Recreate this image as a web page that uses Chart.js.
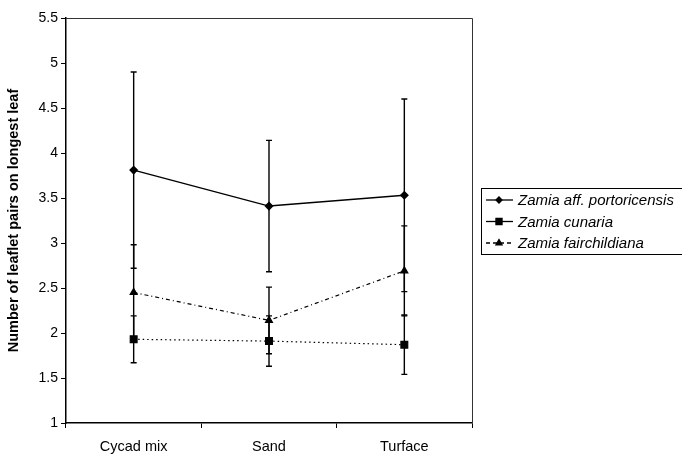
<!DOCTYPE html>
<html>
<head>
<meta charset="utf-8">
<script src="https://cdn.jsdelivr.net/npm/chart.js@4/dist/chart.umd.min.js"></script>
<style>
html,body{margin:0;padding:0;background:#fff}
#wrap{width:682px;height:456px;position:relative}
</style>
</head>
<body>
<div id="wrap"><canvas id="c"></canvas></div>
<script>
"use strict";
// data
const categories=["Cycad mix","Sand","Turface"];
const seriesNames=["Zamia aff. portoricensis","Zamia cunaria","Zamia fairchildiana"];
const portoricensis=[3.81,3.41,3.53];
const portoricensisErr=[1.09,0.73,1.07];
const cunaria=[1.93,1.91,1.87];
const cunariaErr=[0.26,0.28,0.33];
const fairchildiana=[2.45,2.14,2.69];
const fairchildianaErr=[0.53,0.37,0.50];
const yMin=1,yMax=5.5,yStep=0.5;

const FONT='"Liberation Sans", Arial, sans-serif';

//error bars, drawn with the y scale
const errorBars={
    id:"errorBars",
    afterDatasetsDraw(chart){
        const ctx=chart.ctx;
        const y=chart.scales.y;
        ctx.save();
        ctx.strokeStyle="#000";
        ctx.lineWidth=1.4;
        chart.data.datasets.forEach((ds,di)=>{
            const meta=chart.getDatasetMeta(di);
            meta.data.forEach((pt,i)=>{
                const v=ds.data[i],e=ds.errors[i];
                const top=y.getPixelForValue(v+e);
                const bot=y.getPixelForValue(v-e);
                ctx.beginPath();
                ctx.moveTo(pt.x,top);ctx.lineTo(pt.x,bot);
                ctx.moveTo(pt.x-3,top);ctx.lineTo(pt.x+3,top);
                ctx.moveTo(pt.x-3,bot);ctx.lineTo(pt.x+3,bot);
                ctx.stroke();
            });
        });
        ctx.restore();
    }
};

//frame round the plot area
const frame={
    id:"frame",
    beforeDatasetsDraw(chart){
        const a=chart.chartArea,ctx=chart.ctx;
        ctx.save();
        ctx.strokeStyle="#333";
        ctx.lineWidth=1;
        ctx.beginPath();
        ctx.moveTo(a.left,a.top+0.5);ctx.lineTo(a.right+0.5,a.top+0.5);
        ctx.lineTo(a.right+0.5,a.bottom);
        ctx.stroke();
        ctx.restore();
    }
};

//boxed legend on the right, line sample + marker like the original
const boxLegend={
    id:"boxLegend",
    afterDraw(chart){
        const ctx=chart.ctx;
        const bx=481,by=188,bw=220,bh=66;
        ctx.save();
        ctx.strokeStyle="#000";
        ctx.lineWidth=1;
        ctx.strokeRect(bx+0.5,by+0.5,bw,bh);
        chart.data.datasets.forEach((ds,i)=>{
            const ry=by+12+i*21.5;
            ctx.strokeStyle="#000";
            ctx.lineWidth=1.3;
            ctx.setLineDash(i==2?[4,3]:[]);
            ctx.beginPath();
            ctx.moveTo(486,ry);ctx.lineTo(513,ry);
            ctx.stroke();
            ctx.setLineDash([]);
            Chart.helpers.drawPoint(ctx,{pointStyle:ds.pointStyle,radius:ds.pointRadius-0.5,borderWidth:1},499,ry);
            ctx.fillStyle="#000";
            ctx.font="italic 15px "+FONT;
            ctx.textBaseline="middle";
            ctx.fillText(ds.label,518,ry+1);
        });
        ctx.restore();
    }
};

const data={
    labels:categories,
    datasets:[{
        label:seriesNames[0],
        data:portoricensis,
        errors:portoricensisErr,
        borderColor:"#000",
        backgroundColor:"#000",
        borderWidth:1.5,
        pointStyle:"rectRot",
        pointRadius:3.5
    },{
        label:seriesNames[1],
        data:cunaria,
        errors:cunariaErr,
        borderColor:"#000",
        backgroundColor:"#000",
        borderWidth:1.2,
        borderDash:[1.5,3],
        pointStyle:"rect",
        pointRadius:4.8
    },{
        label:seriesNames[2],
        data:fairchildiana,
        errors:fairchildianaErr,
        borderColor:"#000",
        backgroundColor:"#000",
        borderWidth:1.2,
        borderDash:[4,3,1,3],
        pointStyle:"triangle",
        pointRadius:4
    }]
};

const options={
    responsive:true,
    maintainAspectRatio:false,
    animation:false,
    layout:{padding:{top:18,right:210,left:0,bottom:0}},
    elements:{
        line:{tension:0},
        point:{borderWidth:1,hoverRadius:4}
    },
    scales:{
        x:{
            offset:true,
            afterFit(s){s.height=33;},
            grid:{offset:true,drawOnChartArea:false,tickLength:5,color:"#000"},
            border:{color:"#000",width:1.5},
            ticks:{color:"#000",font:{family:FONT,size:14.5},padding:10}
        },
        y:{
            min:yMin,
            max:yMax,
            afterFit(s){s.width=66;},
            grid:{drawOnChartArea:false,tickLength:5,color:"#000"},
            border:{color:"#000",width:1.5},
            ticks:{
                stepSize:yStep,
                color:"#000",
                font:{family:FONT,size:14},
                padding:3,
                callback:v=>String(v)
            },
            title:{
                display:true,
                text:"Number of leaflet pairs on longest leaf",
                color:"#000",
                font:{family:FONT,size:14.5,weight:"bold"},
                padding:{top:5,bottom:0}
            }
        }
    },
    plugins:{
        legend:{display:false},
        tooltip:{enabled:false}
    }
};

new Chart(document.getElementById("c"),{
    type:"line",
    data,
    options,
    plugins:[frame,errorBars,boxLegend]
});
</script>
</body>
</html>
